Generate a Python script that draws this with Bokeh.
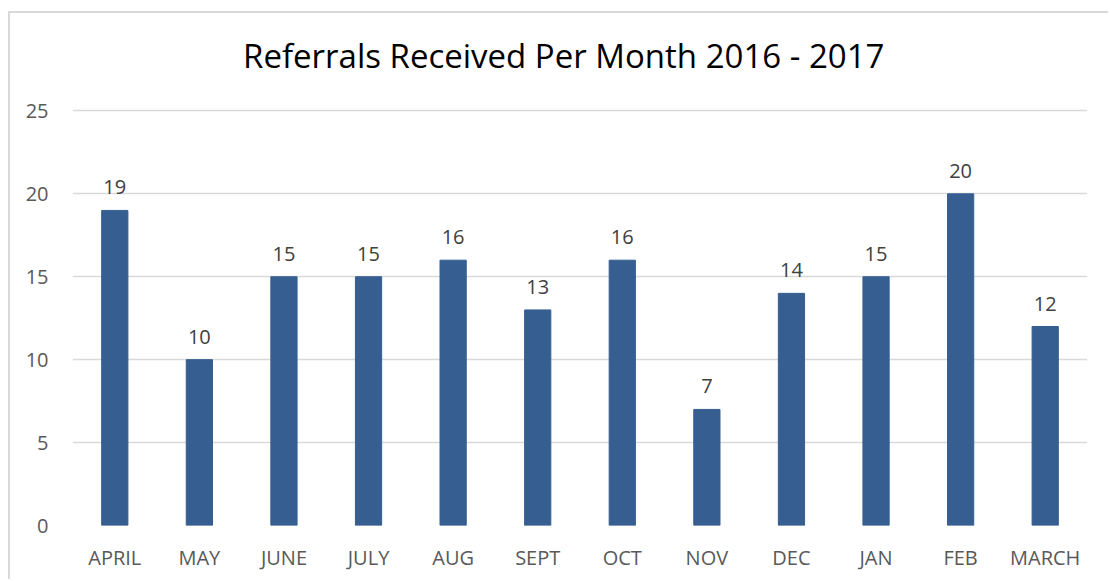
from bokeh.plotting import figure
from bokeh.models import ColumnDataSource, LabelSet, Range1d, FixedTicker
from bokeh.core.properties import value
from bokeh.embed import file_html
from bokeh.resources import INLINE

months = ["APRIL", "MAY", "JUNE", "JULY", "AUG", "SEPT", "OCT", "NOV", "DEC", "JAN", "FEB", "MARCH"]
referrals = [19, 10, 15, 15, 16, 13, 16, 7, 14, 15, 20, 12]
y_ticks = [0, 5, 10, 15, 20, 25]
title_text = "Referrals Received Per Month 2016 - 2017"

src = ColumnDataSource(dict(m=months, v=referrals, t=[str(v) for v in referrals]))

# y range extends above 25 to leave room for the chart title inside the frame
p = figure(x_range=months, y_range=Range1d(0, 29.67), width=1100, height=568,
           output_backend="svg", toolbar_location=None,
           min_border_left=62, min_border_right=23, min_border_top=20, min_border_bottom=56)
p.styles = {"border-left": "2px solid #D9D9D9", "border-top": "2px solid #D9D9D9",
            "margin-left": "8px", "margin-top": "11px"}

p.text(x=["SEPT"], y=[28.35], text=[title_text], x_offset=26, text_align="center",
       text_baseline="middle", text_font=value("Open Sans"),
       text_font_size="33px", text_color="#000000")

p.vbar(x="m", top="v", width=0.31, source=src, color="#365E91")

labels = LabelSet(x="m", y="v", text="t", source=src, text_align="center",
                  text_baseline="bottom", y_offset=16, text_font=value("Open Sans"),
                  text_font_size=value("20px"), text_color="#404040")
p.add_layout(labels)

p.outline_line_color = None
p.xgrid.grid_line_color = None
p.ygrid.grid_line_color = "#D9D9D9"
p.ygrid.grid_line_width = 1.5
p.yaxis.ticker = FixedTicker(ticks=y_ticks)
for ax in (p.xaxis[0], p.yaxis[0]):
    ax.axis_line_color = None
    ax.major_tick_line_color = None
    ax.minor_tick_line_color = None
    ax.major_label_text_font = "Open Sans"
    ax.major_label_text_font_size = "20px"
    ax.major_label_text_color = "#595959"
p.xaxis.major_label_standoff = 12
p.yaxis.major_label_standoff = 18

open("out.html", "w").write(file_html(p, INLINE))
